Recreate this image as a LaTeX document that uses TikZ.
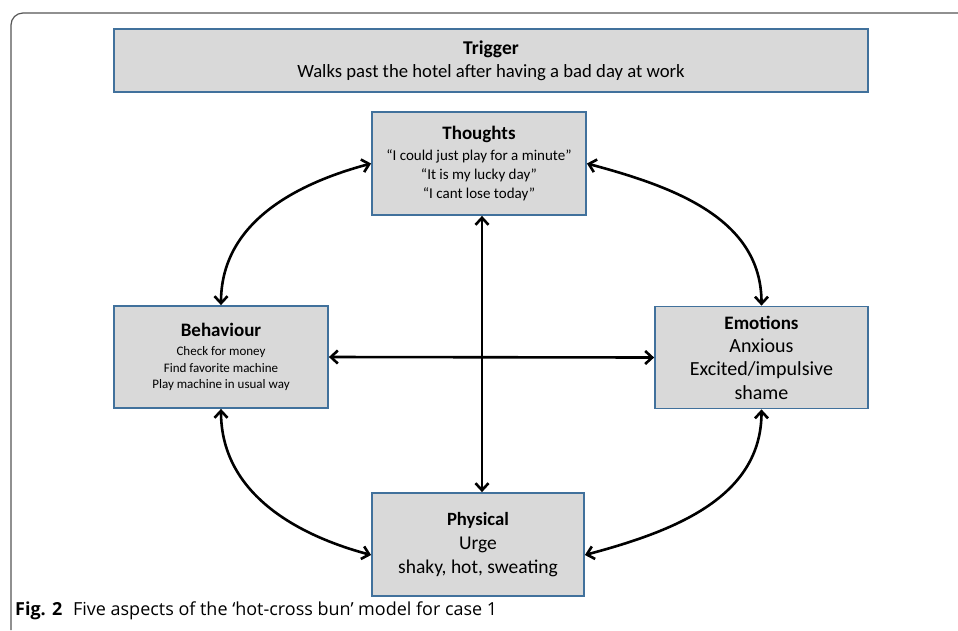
\documentclass[tikz,border=0pt]{standalone}
\usepackage{fontspec}
\usepackage{graphicx}
\setmainfont{Carlito}
\newfontfamily\capfont{Open Sans}
\usetikzlibrary{arrows.meta}
\definecolor{boxfill}{HTML}{D9D9D9}
\definecolor{boxline}{HTML}{41719C}
\definecolor{frameline}{HTML}{555555}
\begin{document}
\begin{tikzpicture}[x=1pt,y=-1pt,
  box/.style={draw=boxline, line width=1.8pt, fill=boxfill, align=center, inner sep=0pt, anchor=center},
  link/.style={line width=2.6pt, {Straight Barb[length=7pt,width=13pt]}-{Straight Barb[length=7pt,width=13pt]}},
]
\useasboundingbox[fill=white] (0,0) rectangle (958,630);
\draw[frameline, line width=1.2pt, rounded corners=12pt] (11,630) -- (11,13) -- (958,13);

\node[box, minimum width=754pt, minimum height=63pt, font=\fontsize{18.7}{23}\selectfont] (trigger) at (491,60.5)
  {{\fontsize{19.5}{23}\selectfont\bfseries Trigger}\\Walks past the hotel after having a bad day at work};

\node[box, minimum width=214pt, minimum height=103pt, font=\fontsize{15}{19}\selectfont] (thoughts) at (479,163.5)
  {{\fontsize{19}{19}\selectfont\bfseries Thoughts}\\[1.5pt]“I could just play for a minute”\\“It is my lucky day”\\“I cant lose today”};

\node[box, minimum width=214pt, minimum height=102pt, font=\fontsize{13}{16.5}\selectfont] (behaviour) at (221,357)
  {{\fontsize{19}{19}\selectfont\bfseries Behaviour}\\[3pt]Check for money\\Find favorite machine\\Play machine in usual way};

\node[box, minimum width=213pt, minimum height=102pt, font=\fontsize{20}{23.3}\selectfont] (emotions) at (761.5,357.5)
  {{\fontsize{19}{19}\selectfont\bfseries Emotions}\\Anxious\\Excited/impulsive\\shame};

\node[box, minimum width=212pt, minimum height=103pt, font=\fontsize{19.5}{24}\selectfont] (physical) at (478,544.5)
  {{\fontsize{18.7}{19}\selectfont\bfseries Physical}\\Urge\\shaky, hot, sweating};

\draw[link] (thoughts.west) to[out=195, in=90] (behaviour.north);
\draw[link] (thoughts.east) to[out=-15, in=90] (emotions.north);
\draw[link] (behaviour.south) to[out=-90, in=165] ([yshift=-10.5pt]physical.west);
\draw[link] (emotions.south) to[out=-90, in=15] ([yshift=-10.5pt]physical.east);
\draw[link] (behaviour.east) -- (emotions.west);
\draw[link] ([xshift=3pt]thoughts.south) -- ([xshift=4pt]physical.north);

\node[anchor=base west, inner sep=0pt] (caption) at (15,615)
  {\resizebox{482pt}{!}{\capfont\fontsize{15}{18}\selectfont\textbf{Fig. 2}\hspace{0.6em}Five aspects of the ‘hot-cross bun’ model for case 1}};
\end{tikzpicture}
\end{document}
